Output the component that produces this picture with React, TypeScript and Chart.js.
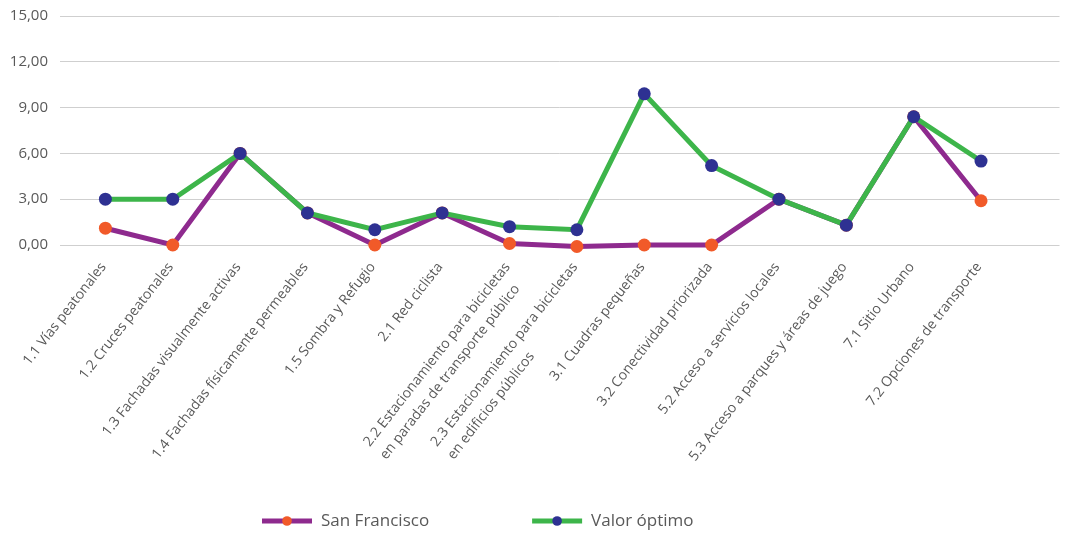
import React, { useEffect, useRef } from "react";
import { Chart, registerables } from "chart.js";

Chart.register(...registerables);

const categories: (string | string[])[] = [
  "1.1 Vías peatonales",
  "1.2 Cruces peatonales",
  "1.3 Fachadas visualmente activas",
  "1.4 Fachadas físicamente permeables",
  "1.5 Sombra y Refugio",
  "2.1 Red ciclista",
  ["2.2 Estacionamiento para bicicletas", "en paradas de transporte público"],
  ["2.3 Estacionamiento para bicicletas", "en edificios públicos"],
  "3.1 Cuadras pequeñas",
  "3.2 Conectividad priorizada",
  "5.2 Acceso a servicios locales",
  "5.3 Acceso a parques y áreas de juego",
  "7.1 Sitio Urbano",
  "7.2 Opciones de transporte",
];

const sanFrancisco = [1.1, 0, 6, 2.1, 0, 2.1, 0.1, -0.1, 0, 0, 3, 1.3, 8.4, 2.9];
const valorOptimo = [3, 3, 6, 2.1, 1, 2.1, 1.2, 1, 9.9, 5.2, 3, 1.3, 8.4, 5.5];

const seriesNames = ["San Francisco", "Valor óptimo"];
const yMin = 0;
const yMax = 15;
const yStep = 3;

const FONT = '"Open Sans", "Noto Sans", sans-serif';
const TEXT_COLOR = "#595959";

const LEGEND_X = 262;
const LEGEND_Y = 521;
const LEGEND_MARK_W = 50;
const LEGEND_TEXT_GAP = 9;
const LEGEND_ITEM_GAP = 103;

const lineLegend = {
  id: "lineLegend",
  afterDraw(chart: any) {
    const ctx = chart.ctx;
    ctx.save();
    ctx.font = `17px ${FONT}`;
    ctx.textBaseline = "middle";
    ctx.textAlign = "left";
    let x = LEGEND_X;
    chart.data.datasets.forEach((ds: any) => {
      ctx.strokeStyle = ds.borderColor;
      ctx.lineWidth = 5;
      ctx.lineCap = "butt";
      ctx.beginPath();
      ctx.moveTo(x, LEGEND_Y);
      ctx.lineTo(x + LEGEND_MARK_W, LEGEND_Y);
      ctx.stroke();
      ctx.fillStyle = ds.pointBackgroundColor;
      ctx.beginPath();
      ctx.arc(x + LEGEND_MARK_W / 2, LEGEND_Y, 4.8, 0, Math.PI * 2);
      ctx.fill();
      ctx.fillStyle = TEXT_COLOR;
      ctx.fillText(ds.label, x + LEGEND_MARK_W + LEGEND_TEXT_GAP, LEGEND_Y);
      x += LEGEND_MARK_W + LEGEND_TEXT_GAP + ctx.measureText(ds.label).width + LEGEND_ITEM_GAP;
    });
    ctx.restore();
  },
};

// Multi-line category labels: lines left-aligned, first line ending at the tick.
const labelAlign = {
  id: "labelAlign",
  beforeDraw(chart: any) {
    const scale = chart.scales.x;
    if (!scale) return;
    const items = scale.getLabelItems();
    const ctx = chart.ctx;
    items.forEach((item: any) => {
      if (item._adj) return;
      item._adj = true;
      const lines: string[] = Array.isArray(item.label) ? item.label : [item.label];
      const [x, y] = item.options.translation;
      const r = item.options.rotation;
      let nx = x - 2;
      let ny = y;
      if (lines.length > 1) {
        ctx.save();
        ctx.font = item.font.string;
        const w = ctx.measureText(lines[0]).width;
        ctx.restore();
        nx -= w * Math.cos(r);
        ny -= w * Math.sin(r);
        item.options.textAlign = "left";
      }
      item.options.translation = [nx, ny];
    });
  },
};

export default function App() {
  const canvasRef = useRef<HTMLCanvasElement | null>(null);

  useEffect(() => {
    if (!canvasRef.current) return;
    const toPoints = (arr: number[]) => arr.map((y, i) => ({ x: i, y }));
    const chart = new Chart(canvasRef.current, {
      type: "line",
      data: {
        datasets: [
          {
            label: seriesNames[0],
            data: toPoints(sanFrancisco),
            borderColor: "#8e2a8e",
            backgroundColor: "#8e2a8e",
            pointBackgroundColor: "#f15a29",
            pointBorderColor: "#f15a29",
            borderWidth: 5,
            pointRadius: 6.5,
            pointBorderWidth: 0,
            tension: 0,
            clip: false,
            order: 2,
          },
          {
            label: seriesNames[1],
            data: toPoints(valorOptimo),
            borderColor: "#3db54a",
            backgroundColor: "#3db54a",
            pointBackgroundColor: "#2e3192",
            pointBorderColor: "#2e3192",
            borderWidth: 5,
            pointRadius: 6.5,
            pointBorderWidth: 0,
            tension: 0,
            clip: false,
            order: 1,
          },
        ],
      },
      options: {
        responsive: false,
        animation: false,
        devicePixelRatio: 1,
        layout: { padding: { top: 16, right: 0, bottom: 0, left: 0 } },
        plugins: {
          legend: { display: false },
          tooltip: { enabled: false },
        },
        scales: {
          x: {
            type: "linear",
            min: -0.674,
            max: 14.165,
            grid: { display: false },
            border: { display: false },
            afterBuildTicks: (scale: any) => {
              scale.ticks = categories.map((_, i) => ({ value: i }));
            },
            afterFit: (scale: any) => {
              scale.height = 289;
            },
            ticks: {
              autoSkip: false,
              minRotation: 52,
              maxRotation: 52,
              padding: 5,
              color: TEXT_COLOR,
              font: { family: FONT, size: 14, lineHeight: 1.5 },
              callback: (v: any) => categories[v as number] as any,
            },
          },
          y: {
            min: yMin,
            max: yMax,
            grid: { color: "#cfcfcf", lineWidth: 1, drawTicks: true, tickLength: 9, tickColor: "rgba(0,0,0,0)" },
            border: { display: false },
            afterFit: (scale: any) => {
              scale.width = 60;
            },
            ticks: {
              stepSize: yStep,
              padding: 3,
              color: TEXT_COLOR,
              font: { family: FONT, size: 15 },
              callback: (v: any) => Number(v).toFixed(2).replace(".", ","),
            },
          },
        },
      },
      plugins: [labelAlign, lineLegend],
    });
    return () => chart.destroy();
  }, []);

  return (
    <div style={{ position: "fixed", left: 0, top: 0, width: 1066, height: 534, background: "#fff" }}>
      <canvas ref={canvasRef} width={1066} height={534} />
    </div>
  );
}
